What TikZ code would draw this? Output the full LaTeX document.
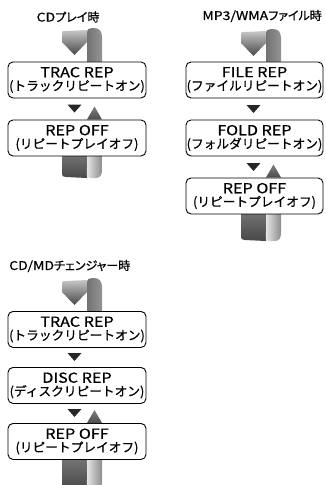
\documentclass[tikz,border=0pt]{standalone}
\usepackage{fontspec}
\setmainfont[FakeBold=0.6]{Noto Sans CJK JP}
\newfontfamily\latf[FakeStretch=1.17,FakeBold=0.6]{Noto Sans CJK JP}
\newfontfamily\ttlf[RawFeature=+palt,FakeBold=0.7]{Noto Sans CJK JP}
\newcommand\ribtop[5]{% L F R T B
  \shade[top color=black!22, bottom color=black!72]
    (#1,#4+5) .. controls (#1,#4+3) and (#1+1,#4+3) .. (#1+3,#4+3)
    -- (#2,#4+2) -- (#2,#4+14) -- ({(#1+#2)/2},#4+27) -- (#1,#4+14) -- cycle;
  \shade[left color=black!55, middle color=black!14, right color=black!42]
    (#2,#5) -- (#2,#4+5) .. controls (#2,#4+1) and (#2+2,#4) .. (#2+5,#4)
    -- (#3-8,#4) .. controls (#3-3,#4) and (#3,#4+3) .. (#3,#4+9) -- (#3,#5) -- cycle;
}
\newcommand\ribbot[5]{% L F R B0 E
  \shade[top color=black!55, bottom color=black!72]
    (#1,#4) -- (#1,#5-4) .. controls (#1,#5-2) and (#1+1,#5-1) .. (#1+4,#5-1)
    -- (#2,#5) -- (#2,#4) -- cycle;
  \shade[left color=black!6, right color=black!45]
    (#2,#4) -- (#2,#5-10) .. controls (#2,#5-4) and (#2-2,#5) .. (#2+4,#5)
    -- (#3-6,#5) .. controls (#3-2,#5) and (#3,#5-3) .. (#3,#5-8) -- (#3,#4) -- cycle;
}
\newcommand\downtri[2]{% cx ytop
  \fill[black!85] (#1-7,#2) -- (#1+7,#2) -- (#1,#2+8) -- cycle;
}
\newcommand\uptri[3]{% F R base
  \shade[top color=black!50, bottom color=black!70] ({(#1+#2)/2},#3-13) -- (#2,#3) -- (#1,#3) -- cycle;
}
\tikzset{
  modebox/.style={draw=black, line width=0.9pt, rounded corners=5pt, fill=white,
    minimum height=36pt, inner sep=0pt, align=center, anchor=north},
  colA/.style={minimum width=138pt},
  colB/.style={minimum width=137pt},
  ttl/.style={inner sep=0pt, font=\ttlf\fontsize{12}{13}\selectfont},
}
\newcommand\bx[2]{{\latf\fontsize{13.8}{14}\selectfont #1}\\[1.2pt]{\fontsize{12.7}{14}\selectfont #2}}
\begin{document}
\begin{tikzpicture}[x=1pt,y=-1pt]
\useasboundingbox (0,0) rectangle (325,485);
% titles
\node[ttl] (tA) at (68,17) {{\latf CD}プレイ時};
\node[ttl,anchor=east] (tB) at (322,16) {{\latf MP3/WMA}ファイル時};
\node[ttl,anchor=west] (tC) at (9,266) {{\latf CD/MD}チェンジャー時};
% ribbons
\ribtop{62}{87}{102}{28}{62}
\ribbot{62}{87}{102}{155}{178}
\ribtop{241}{266}{281}{29}{62}
\ribbot{241}{266}{281}{213}{241}
\ribtop{62}{87}{102}{278}{311}
\ribbot{62}{87}{102}{459}{490}
% set A
\node[modebox,colA] (a1) at (77,61.5) {\bx{TRAC REP}{(トラックリピートオン)}};
\node[modebox,colA] (a2) at (77,119.5) {\bx{REP OFF}{(リピートプレイオフ)}};
\downtri{74.5}{104.5}
\uptri{87}{102}{119.5}
% set B
\node[modebox,colB] (b1) at (254.5,61.5) {\bx{FILE REP}{(ファイルリピートオン)}};
\node[modebox,colB] (b2) at (254.5,119.5) {\bx{FOLD REP}{(フォルダリピートオン)}};
\node[modebox,colB] (b3) at (254.5,177.5) {\bx{REP OFF}{(リピートプレイオフ)}};
\downtri{253.5}{105}
\downtri{253.5}{163}
\uptri{266}{281}{177.5}
% set C
\node[modebox,colA] (c1) at (77,311) {\bx{TRAC REP}{(トラックリピートオン)}};
\node[modebox,colA] (c2) at (77,367) {\bx{DISC REP}{(ディスクリピートオン)}};
\node[modebox,colA] (c3) at (77,423) {\bx{REP OFF}{(リピートプレイオフ)}};
\downtri{74.5}{353}
\downtri{74.5}{409}
\uptri{87}{102}{423}
\end{tikzpicture}
\end{document}
